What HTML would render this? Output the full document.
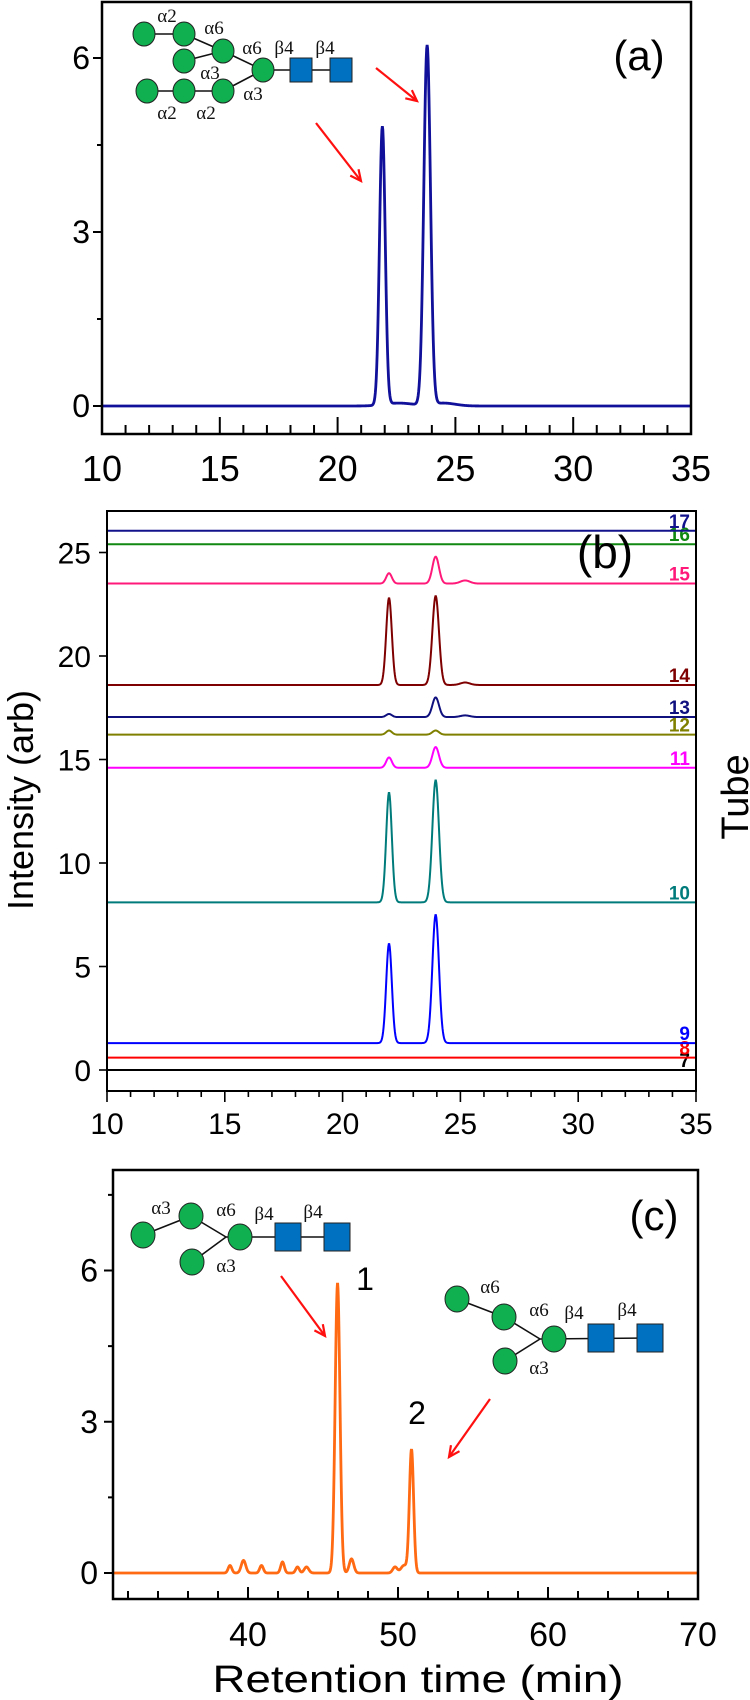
<!DOCTYPE html>
<html><head><meta charset="utf-8"><style>
html,body{margin:0;padding:0;background:#fff;}
svg{display:block;font-family:"Liberation Sans",sans-serif;}
</style></head><body>
<svg id="fig" width="750" height="1700" viewBox="0 0 750 1700" xmlns="http://www.w3.org/2000/svg">
<g id="pa"></g>
<g id="pb"></g>
<g id="pc"></g>
</svg>
<script>
// ---------- data ----------
// Panel (a)
const aPeakTimes = [21.9, 23.8, 22.6, 24.5];
const aPeakHeights = [4.8, 6.2, 0.05, 0.05];
const aPeakWidths = [0.12, 0.14, 0.6, 0.5];
const aXTicks = [10, 15, 20, 25, 30, 35];
const aYTicks = [0, 3, 6];
// Panel (b)
const bTubes = ["7", "8", "9", "10", "11", "12", "13", "14", "15", "16", "17"];
const bColors = ["#000000", "#ff0000", "#0000ff", "#007b7b", "#ff00ff", "#7f7f00", "#10107f", "#7f0000", "#ff1a7a", "#118811", "#12128c"];
const bBaselines = [0, 0.6, 1.3, 8.1, 14.6, 16.2, 17.05, 18.6, 23.5, 25.4, 26.05];
const bPeak1 = [0, 0, 4.8, 5.3, 0.5, 0.2, 0.15, 4.2, 0.5, 0, 0];
const bPeak2 = [0, 0, 6.2, 5.9, 1.0, 0.2, 0.95, 4.3, 1.3, 0, 0];
const bPeak3 = [0, 0, 0, 0, 0, 0, 0.08, 0.12, 0.15, 0, 0];
const bPeakTimes = [21.97, 23.95, 25.2];
const bXTicks = [10, 15, 20, 25, 30, 35];
const bYTicks = [0, 5, 10, 15, 20, 25];
// Panel (c)
const cPeakTimes = [38.8, 39.7, 40.9, 42.3, 43.3, 43.9, 45.97, 46.9, 49.8, 50.4, 50.9];
const cPeakHeights = [0.15, 0.25, 0.15, 0.22, 0.12, 0.12, 5.74, 0.28, 0.12, 0.15, 2.45];
const cPeakWidths = [0.12, 0.15, 0.12, 0.12, 0.12, 0.15, 0.16, 0.15, 0.15, 0.2, 0.14];
const cXTicks = [40, 50, 60, 70];
const cYTicks = [0, 3, 6];

// ---------- helpers ----------
const NS = "http://www.w3.org/2000/svg";
function mk(parent, tag, attrs, text) {
  const e = document.createElementNS(NS, tag);
  for (const k in attrs) e.setAttribute(k, attrs[k]);
  if (text !== undefined) e.textContent = text;
  parent.appendChild(e);
  return e;
}
function lin(d0, d1, r0, r1) { return v => r0 + (v - d0) * (r1 - r0) / (d1 - d0); }
function curve(xs, t0, t1, base, times, heights, widths) {
  let d = "";
  for (let t = t0; t <= t1 + 1e-9; t += 0.02) {
    let v = base;
    for (let i = 0; i < times.length; i++) {
      const z = (t - times[i]) / widths[i];
      v += heights[i] * Math.exp(-0.5 * z * z);
    }
    d += (d ? "L" : "M") + xs.x(t).toFixed(2) + "," + xs.y(v).toFixed(2);
  }
  return d;
}
function circ(g, cx, cy, r) {
  const c = mk(g, "ellipse", {cx: cx, cy: cy, rx: r, ry: r + 1, fill: "#10b050", stroke: "#222", "stroke-width": 1});
  
  
}
function sq(g, cx, cy, w, h) {
  const s = mk(g, "rect", {x: cx - w / 2, y: cy - h / 2, width: w, height: h, fill: "#0070c0", stroke: "#222", "stroke-width": 1});
  
  
}
function ln(g, x1, y1, x2, y2) { mk(g, "line", {x1: x1, y1: y1, x2: x2, y2: y2, stroke: "#111", "stroke-width": 1.6}); }
function lbl(g, x, y, t) {
  const e = mk(g, "text", {x: x, y: y, "font-family": "Liberation Serif, serif", "font-size": 19, "text-anchor": "middle", fill: "#111"}, t);
  
  
}
function arrow(g, x1, y1, x2, y2) {
  const a = mk(g, "g", {});
  
  
  mk(a, "line", {x1: x1, y1: y1, x2: x2, y2: y2, stroke: "#ff1010", "stroke-width": 2.2});
  const ang = Math.atan2(y2 - y1, x2 - x1), L = 12, W = 0.45;
  const p1 = [x2 - L * Math.cos(ang - W), y2 - L * Math.sin(ang - W)];
  const p2 = [x2 - L * Math.cos(ang + W), y2 - L * Math.sin(ang + W)];
  mk(a, "polyline", {points: p1.join(",") + " " + x2 + "," + y2 + " " + p2.join(","), fill: "none", stroke: "#ff1010", "stroke-width": 2.2});
}

// ---------- panel (a) ----------
(function () {
  const g = document.getElementById("pa");
  const X0 = 102, X1 = 691, T = 2, B = 434;
  const s = {x: lin(10, 35, X0, X1), y: lin(0, 6, 406, 58)};
  const ln1 = mk(g, "path", {d: curve(s, 10, 35, 0, aPeakTimes, aPeakHeights, aPeakWidths), fill: "none", stroke: "#10109a", "stroke-width": 2.8});
  
  
  const f = mk(g, "rect", {x: X0, y: T, width: X1 - X0, height: B - T, fill: "none", stroke: "#000", "stroke-width": 2.5});
  
  
  for (let t = 10; t <= 35; t++) {
    const L = t % 5 === 0 ? 17 : 9;
    mk(g, "line", {x1: s.x(t), y1: B, x2: s.x(t), y2: B - L, stroke: "#000", "stroke-width": 2});
  }
  aXTicks.forEach(t => {
    const e = mk(g, "text", {x: s.x(t), y: 481, "font-size": 36, "text-anchor": "middle"}, String(t));
    
    
  });
  [1.5, 4.5].forEach(v => mk(g, "line", {x1: X0, y1: s.y(v), x2: X0 - 5, y2: s.y(v), stroke: "#000", "stroke-width": 2}));
  aYTicks.forEach(v => {
    mk(g, "line", {x1: X0, y1: s.y(v), x2: X0 - 9, y2: s.y(v), stroke: "#000", "stroke-width": 2});
    const e = mk(g, "text", {x: 90, y: s.y(v) + 11, "font-size": 32, "text-anchor": "end"}, String(v));
    
    
  });
  const pl = mk(g, "text", {x: 639, y: 70, "font-size": 42, "text-anchor": "middle"}, "(a)");
  
  
  const gl = mk(g, "g", {});
  
  
  ln(gl, 144, 34, 184, 34); ln(gl, 184, 34, 223, 51); ln(gl, 184, 61, 223, 51);
  ln(gl, 223, 51, 263, 70); ln(gl, 223, 91, 263, 70); ln(gl, 147, 91, 223, 91); ln(gl, 263, 70, 341, 70);
  [[144,34],[184,34],[184,61],[223,51],[263,70],[147,91],[184,91],[223,91]].forEach(p => circ(gl, p[0], p[1], 11));
  sq(gl, 301, 70, 22, 24); sq(gl, 341, 70, 22, 24);
  lbl(gl, 167, 22, "α2"); lbl(gl, 214, 34, "α6"); lbl(gl, 252, 54, "α6"); lbl(gl, 284, 54, "β4"); lbl(gl, 325, 54, "β4");
  lbl(gl, 210, 79, "α3"); lbl(gl, 253, 100, "α3"); lbl(gl, 167, 119, "α2"); lbl(gl, 206, 119, "α2");
  arrow(g, 316, 123, 361, 181);
  arrow(g, 376, 68, 417, 101);
})();

// ---------- panel (b) ----------
(function () {
  const g = document.getElementById("pb");
  const X0 = 107, X1 = 696, T = 511, B = 1091;
  const s = {x: lin(10, 35, X0, X1), y: lin(0, 20, 1070, 656)};
  bTubes.forEach((name, i) => {
    const p = mk(g, "path", {d: curve(s, 10, 35, bBaselines[i], bPeakTimes, [bPeak1[i], bPeak2[i], bPeak3[i]], [0.12, 0.14, 0.2]), fill: "none", stroke: bColors[i], "stroke-width": 2});
    
    
    const t = mk(g, "text", {x: 690, y: s.y(bBaselines[i]) - 3, "font-size": 19, "font-weight": "bold", "text-anchor": "end", fill: bColors[i]}, name);
    
    
  });
  const f = mk(g, "rect", {x: X0, y: T, width: X1 - X0, height: B - T, fill: "none", stroke: "#000", "stroke-width": 2});
  
  
  for (let t = 10; t <= 35; t++) {
    const L = t % 5 === 0 ? 11 : 6;
    mk(g, "line", {x1: s.x(t), y1: B, x2: s.x(t), y2: B + L, stroke: "#000", "stroke-width": 1.6});
  }
  bXTicks.forEach(t => {
    const e = mk(g, "text", {x: s.x(t), y: 1134, "font-size": 30, "text-anchor": "middle"}, String(t));
    
    
  });
  bYTicks.forEach(v => {
    mk(g, "line", {x1: X0, y1: s.y(v), x2: X0 - 8, y2: s.y(v), stroke: "#000", "stroke-width": 1.6});
    const e = mk(g, "text", {x: 91, y: s.y(v) + 11, "font-size": 30, "text-anchor": "end"}, String(v));
    
    
  });
  const yt = mk(g, "text", {x: 0, y: 0, "font-size": 36, "text-anchor": "middle", transform: "translate(33,800) rotate(-90)"}, "Intensity (arb)");
  
  
  const rt = mk(g, "text", {x: 0, y: 0, "font-size": 38, "text-anchor": "middle", transform: "translate(748,797) rotate(-90)"}, "Tube");
  
  
  const pl = mk(g, "text", {x: 605, y: 568, "font-size": 46, "text-anchor": "middle"}, "(b)");
  
  
})();

// ---------- panel (c) ----------
(function () {
  const g = document.getElementById("pc");
  const X0 = 113, X1 = 698, T = 1170, B = 1599;
  const s = {x: lin(31, 70, X0, X1), y: lin(0, 6, 1573, 1270.5)};
  const p = mk(g, "path", {d: curve(s, 31, 70, 0, cPeakTimes, cPeakHeights, cPeakWidths), fill: "none", stroke: "#ff6a13", "stroke-width": 2.8});
  
  
  const f = mk(g, "rect", {x: X0, y: T, width: X1 - X0, height: B - T, fill: "none", stroke: "#000", "stroke-width": 2.5});
  
  
  for (let t = 32; t <= 68; t += 2) {
    const L = t % 10 === 0 ? 12 : 8;
    mk(g, "line", {x1: s.x(t), y1: B, x2: s.x(t), y2: B - L, stroke: "#000", "stroke-width": 2});
  }
  cXTicks.forEach(t => {
    const e = mk(g, "text", {x: s.x(t), y: 1646, "font-size": 34, "text-anchor": "middle"}, String(t));
    
    
  });
  [1.5, 4.5, 7.5].forEach(v => mk(g, "line", {x1: X0, y1: s.y(v), x2: X0 - 5, y2: s.y(v), stroke: "#000", "stroke-width": 2}));
  cYTicks.forEach(v => {
    mk(g, "line", {x1: X0, y1: s.y(v), x2: X0 - 9, y2: s.y(v), stroke: "#000", "stroke-width": 2});
    const e = mk(g, "text", {x: 98, y: s.y(v) + 11, "font-size": 32, "text-anchor": "end"}, String(v));
    
    
  });
  const xt = mk(g, "text", {x: 418, y: 1692, "font-size": 38, "text-anchor": "middle", textLength: 411, lengthAdjust: "spacingAndGlyphs"}, "Retention time (min)");
  
  
  const pl = mk(g, "text", {x: 654, y: 1230, "font-size": 42, "text-anchor": "middle"}, "(c)");
  
  
  const n1 = mk(g, "text", {x: 365, y: 1290, "font-size": 32, "text-anchor": "middle"}, "1");
  
  
  const n2 = mk(g, "text", {x: 417, y: 1424, "font-size": 32, "text-anchor": "middle"}, "2");
  
  
  const g1 = mk(g, "g", {});
  
  
  ln(g1, 143, 1235, 191, 1216); ln(g1, 191, 1216, 226, 1237); ln(g1, 192, 1262, 226, 1237); ln(g1, 226, 1237, 337, 1237);
  [[143,1235],[191,1216],[192,1262],[240,1237]].forEach(q => circ(g1, q[0], q[1], 12));
  sq(g1, 288, 1237, 26, 28); sq(g1, 337, 1237, 26, 28);
  lbl(g1, 161, 1214, "α3"); lbl(g1, 226, 1216, "α6"); lbl(g1, 264, 1220, "β4"); lbl(g1, 313, 1218, "β4"); lbl(g1, 226, 1272, "α3");
  const g2 = mk(g, "g", {});
  
  
  ln(g2, 457, 1299, 504, 1317); ln(g2, 504, 1317, 540, 1339); ln(g2, 505, 1361, 540, 1339); ln(g2, 540, 1339, 650, 1338);
  [[457,1299],[504,1317],[505,1361],[554,1339]].forEach(q => circ(g2, q[0], q[1], 12));
  sq(g2, 601, 1338, 26, 28); sq(g2, 650, 1338, 26, 28);
  lbl(g2, 490, 1293, "α6"); lbl(g2, 539, 1316, "α6"); lbl(g2, 574, 1319, "β4"); lbl(g2, 627, 1316, "β4"); lbl(g2, 539, 1374, "α3");
  arrow(g, 281, 1276, 325, 1336);
  arrow(g, 490, 1399, 449, 1457);
})();
</script>
</body></html>
